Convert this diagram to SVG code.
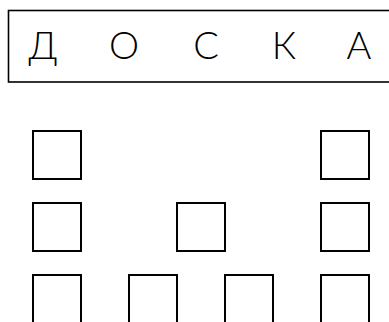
<svg xmlns="http://www.w3.org/2000/svg" width="389" height="322" viewBox="0 0 389 322">
<style>
.box{fill:#fff;stroke:#000;stroke-width:2}
.desk{fill:#fff;stroke:#000;stroke-width:1.6}
.lt{font-family:"Lato","Open Sans","DejaVu Sans",sans-serif;font-weight:300;font-size:38px;fill:#000;text-anchor:middle}
</style>
<rect width="389" height="322" fill="#fff"/>
<g id="board">
<rect class="desk" x="8.5" y="10.5" width="400" height="71.5"/>
<text class="lt" x="43" y="59">Д</text>
<text class="lt" x="124" y="59">О</text>
<text class="lt" x="206" y="59">С</text>
<text class="lt" x="284" y="59">К</text>
<text class="lt" x="359" y="59">А</text>
</g>
<g id="seat-r1c1"><rect class="box" x="33" y="131" width="48" height="48"/></g>
<g id="seat-r1c5"><rect class="box" x="321" y="131" width="48" height="48"/></g>
<g id="seat-r2c1"><rect class="box" x="33" y="203" width="48" height="48"/></g>
<g id="seat-r2c3"><rect class="box" x="177" y="203" width="48" height="48"/></g>
<g id="seat-r2c5"><rect class="box" x="321" y="203" width="48" height="48"/></g>
<g id="seat-r3c1"><rect class="box" x="33" y="275" width="48" height="60"/></g>
<g id="seat-r3c2"><rect class="box" x="129" y="275" width="48" height="60"/></g>
<g id="seat-r3c4"><rect class="box" x="225" y="275" width="48" height="60"/></g>
<g id="seat-r3c5"><rect class="box" x="321" y="275" width="48" height="60"/></g>
<g id="connectors"></g>
</svg>
